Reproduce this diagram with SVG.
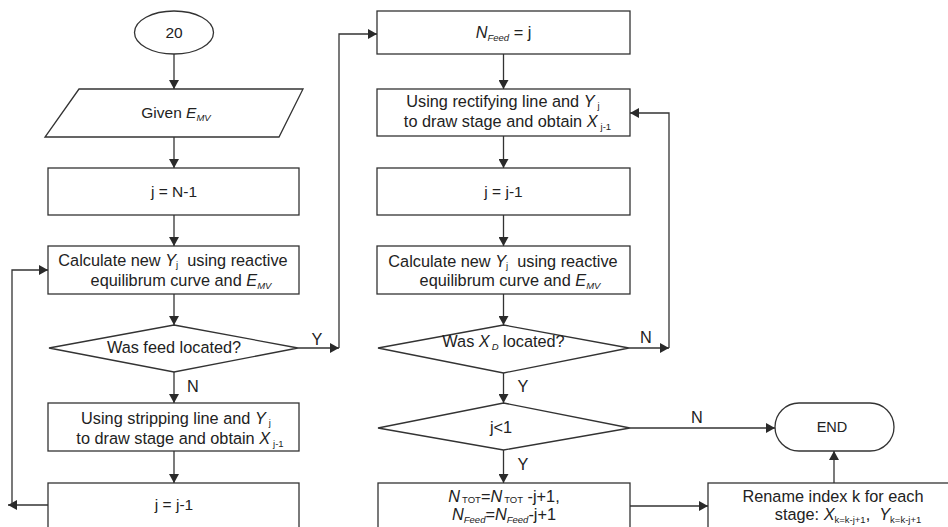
<svg xmlns="http://www.w3.org/2000/svg" width="948" height="527" viewBox="0 0 948 527">
<defs>
<marker id="ah" markerUnits="userSpaceOnUse" markerWidth="10" markerHeight="10" refX="9" refY="5" orient="auto">
<path d="M0,0 L9,5 L0,10 z" fill="#2a2a2a"/>
</marker>
<style>
.s{fill:#fff;stroke:#333;stroke-width:1.3}
.c{fill:none;stroke:#333;stroke-width:1.3;marker-end:url(#ah)}
text{font-family:"Liberation Sans",Arial,sans-serif;font-size:16.3px;fill:#222;text-anchor:middle}
.i{font-style:italic}
.sb{font-size:9.5px}
.sm{font-size:15.5px}
</style>
</defs>
<rect width="948" height="527" fill="#fff"/>

<g id="start">
<ellipse class="s" cx="174" cy="32.5" rx="39.5" ry="21.5"/>
<text class="sm" x="174" y="38">20</text>
</g>
<g id="given">
<polygon class="s" points="79,89 303,89 279,137 45,137"/>
<text class="sm" x="176" y="118">Given <tspan class="i">E</tspan><tspan class="i sb" dy="3">MV</tspan></text>
</g>
<g id="init">
<rect class="s" x="48" y="168" width="251" height="47"/>
<text class="sm" x="174" y="197">j = N-1</text>
</g>
<g id="calcL">
<rect class="s" x="48" y="246" width="251" height="48"/>
<text x="173" y="266" xml:space="preserve">Calculate new <tspan class="i">Y</tspan><tspan class="sb" dy="2">j</tspan><tspan dy="-2">  using reactive</tspan></text>
<text x="181" y="286">equilibrum curve and <tspan class="i">E</tspan><tspan class="i sb" dy="3">MV</tspan></text>
</g>
<g id="feedQ">
<polygon class="s" points="174,325 298,348 174,372 49,348"/>
<text x="174" y="353">Was feed located?</text>
</g>
<g id="strip">
<rect class="s" x="48" y="403" width="251" height="48"/>
<text x="176" y="424">Using stripping line and <tspan class="i">Y</tspan><tspan class="sb" dx="3" dy="2">j</tspan></text>
<text x="180" y="444">to draw stage and obtain <tspan class="i">X</tspan><tspan class="sb" dx="3" dy="3">j-1</tspan></text>
</g>
<g id="decL">
<rect class="s" x="48" y="483" width="251" height="60"/>
<text class="sm" x="174" y="510">j = j-1</text>
</g>

<g id="nfeed">
<rect class="s" x="377" y="11" width="253" height="43"/>
<text x="503.5" y="38"><tspan class="i">N</tspan><tspan class="i sb" dy="3">Feed</tspan><tspan dy="-3"> = j</tspan></text>
</g>
<g id="rect">
<rect class="s" x="377" y="89" width="253" height="47"/>
<text x="503" y="107">Using rectifying line and <tspan class="i">Y</tspan><tspan class="sb" dx="3" dy="2">j</tspan></text>
<text x="507.5" y="127">to draw stage and obtain <tspan class="i">X</tspan><tspan class="sb" dx="3" dy="3">j-1</tspan></text>
</g>
<g id="decR">
<rect class="s" x="377" y="168" width="253" height="47"/>
<text class="sm" x="503.5" y="197">j = j-1</text>
</g>
<g id="calcR">
<rect class="s" x="377" y="246" width="253" height="48"/>
<text x="503" y="267" xml:space="preserve">Calculate new <tspan class="i">Y</tspan><tspan class="sb" dy="2">j</tspan><tspan dy="-2">  using reactive</tspan></text>
<text x="510" y="286">equilibrum curve and <tspan class="i">E</tspan><tspan class="i sb" dy="3">MV</tspan></text>
</g>
<g id="xdQ">
<polygon class="s" points="503.5,325 629,348 503.5,373 378,348"/>
<text x="503.5" y="347">Was <tspan class="i">X</tspan><tspan class="i sb" dx="2" dy="3">D</tspan><tspan dy="-3"> located?</tspan></text>
</g>
<g id="jQ">
<polygon class="s" points="503.5,403 630,428 503.5,450 378,428"/>
<text x="501" y="433">j&lt;1</text>
</g>
<g id="ntot">
<rect class="s" x="378" y="483" width="252" height="60"/>
<text x="504" y="502"><tspan class="i">N</tspan><tspan class="sb" dx="2" dy="1">TOT</tspan><tspan dy="-1">=</tspan><tspan class="i">N</tspan><tspan class="sb" dx="2" dy="1">TOT</tspan><tspan dy="-1"> -j+1,</tspan></text>
<text x="504" y="520"><tspan class="i">N</tspan><tspan class="i sb" dy="3">Feed</tspan><tspan dy="-3">=</tspan><tspan class="i">N</tspan><tspan class="i sb" dy="3">Feed</tspan><tspan dy="-3">-j+1</tspan></text>
</g>
<g id="end">
<rect class="s" x="775" y="403" width="119" height="48" rx="24" ry="24"/>
<text x="832" y="432" style="font-size:14.5px">END</text>
</g>
<g id="rename">
<rect class="s" x="708" y="483" width="260" height="60"/>
<text x="833" y="502">Rename index k for each</text>
<text x="848" y="520" xml:space="preserve">stage: <tspan class="i">X</tspan><tspan class="sb" dy="3">k=k-j+1</tspan><tspan dy="-3">,  </tspan><tspan class="i">Y</tspan><tspan class="sb" dy="3">k=k-j+1</tspan></text>
</g>

<g id="connectors">
<path class="c" d="M174,54 V89"/>
<path class="c" d="M174,137 V168"/>
<path class="c" d="M174,215 V246"/>
<path class="c" d="M174,294 V325"/>
<path class="c" d="M174,372 V403"/>
<path class="c" d="M174,451 V483"/>
<path class="c" d="M48,505 H8"/>
<path class="c" d="M12,505 V270 H48"/>
<path class="c" d="M298,348 H339"/>
<path class="c" d="M339,348 V34 H377"/>
<path class="c" d="M503.5,54 V89"/>
<path class="c" d="M503.5,136 V168"/>
<path class="c" d="M503.5,215 V246"/>
<path class="c" d="M503.5,294 V325"/>
<path class="c" d="M503.5,373 V403"/>
<path class="c" d="M503.5,450 V483"/>
<path class="c" d="M629,348 H669"/>
<path class="c" d="M669,348 V113 H630"/>
<path class="c" d="M630,428 H775"/>
<path class="c" d="M630,506 H708"/>
<path class="c" d="M834,483 V451"/>
<text x="193" y="392">N</text>
<text x="317" y="345">Y</text>
<text x="523" y="392">Y</text>
<text x="523" y="470">Y</text>
<text x="646" y="343">N</text>
<text x="697" y="423">N</text>
</g>
</svg>
